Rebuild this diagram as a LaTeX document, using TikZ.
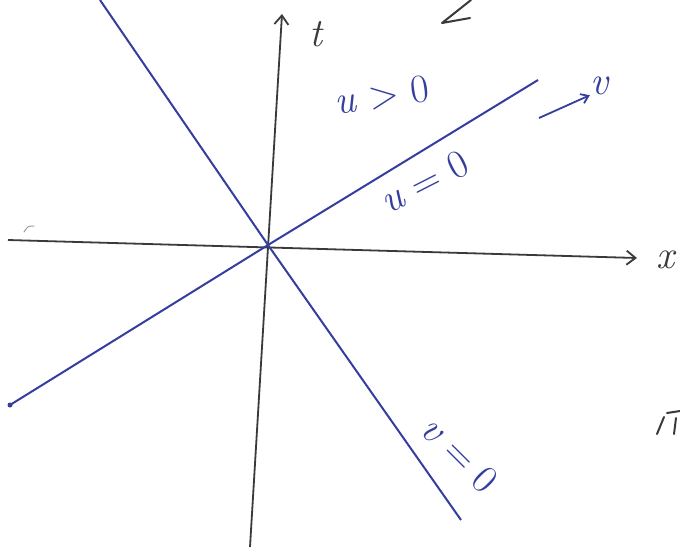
\documentclass[tikz,border=0pt]{standalone}
\usepackage{fontspec}
\usepackage{xcolor}
\definecolor{InkBlue}{RGB}{52,62,158}
\definecolor{InkGray}{RGB}{58,58,62}
\usetikzlibrary{arrows.meta}

\begin{document}
\begin{tikzpicture}[x=1pt, y=-1pt,
    axis/.style={InkGray, line width=1.8pt, -{Straight Barb[length=9pt, width=14pt, line width=1.8pt]}},
    nullline/.style={InkBlue, line width=2pt},
    hand/.style={font=\fontsize{40}{44}\selectfont, inner sep=0pt},
    scribble/.style={InkGray, line width=2pt, line cap=round, line join=round}]

    % 0. THE SHEET
    \useasboundingbox (0,0) rectangle (680,547);
    \fill[white] (0,0) rectangle (680,547);

    % 1. AXES (x and t)
    \coordinate (O) at (268,245);
    \coordinate (tlow) at (250,547);
    \coordinate (thigh) at (282,14);
    \coordinate (xlow) at (8,240);
    \coordinate (xhigh) at (637,258);
    \draw[axis] (tlow) -- (thigh);
    \draw[axis] (xlow) -- (xhigh);
    \node[hand, text=InkGray] (tlabel) at (316,34) {\itshape t};
    \node[hand, text=InkGray] (xlabel) at (665,260) {\itshape x};

    % 2. NULL LINES u = 0 and v = 0
    \coordinate (ulow) at (10,405);
    \coordinate (uhigh) at (538,80);
    \coordinate (vhigh) at (100,0);
    \coordinate (vlow) at (461,520);
    \draw[nullline] (ulow) -- (O) -- (uhigh);
    \draw[nullline] (vhigh) -- (O) -- (vlow);
    \fill[InkBlue] (ulow) circle (2.5);

    % 3. LABELS ON THE LINES
    \node[hand, text=InkBlue, rotate=8] (upos) at (382,95) {\textit{u} > 0};
    \node[hand, text=InkBlue, rotate=27] (uzero) at (424,182) {\textit{u} = 0};
    \node[hand, text=InkBlue, rotate=-45] (vzero) at (460,454) {\textit{v} = 0};

    % 4. DIRECTION OF v
    \node[hand, text=InkBlue] (vlabel) at (599,86) {\itshape v};
    \coordinate (vtail) at (539,118);
    \draw[InkBlue, line width=1.8pt, -{Straight Barb[length=7pt, width=10pt]}] (vtail) -- (vlabel.south west);

    % 5. STRAY MARKS ON THE PAGE
    \draw[scribble] (471,0) -- (442,23) -- (470,18);
    \draw[scribble] (667,413) -- (680,411);
    \draw[scribble] (664,417) -- (657,434);
    \draw[scribble] (676,418) -- (674,434);
    \draw[InkGray!50, line width=1pt, line cap=round] (24,232) .. controls (28,226) .. (34,226);

\end{tikzpicture}
\end{document}
